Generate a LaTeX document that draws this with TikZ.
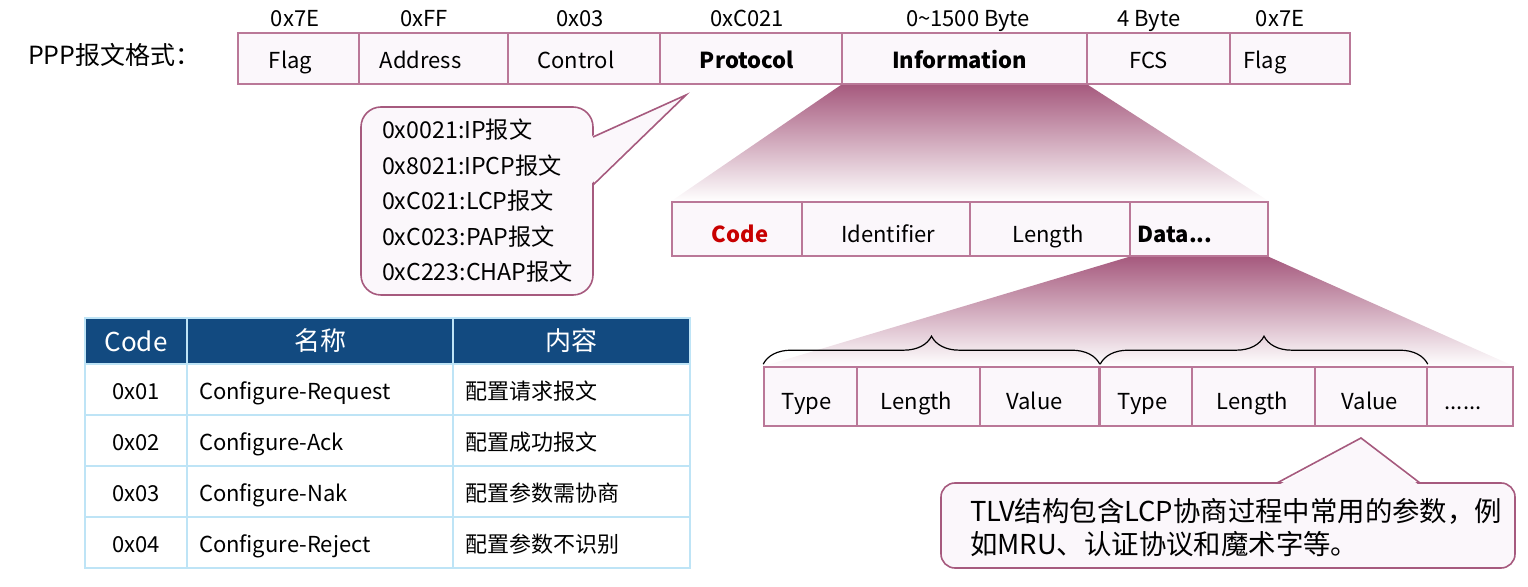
\documentclass[tikz,border=0pt]{standalone}
\usepackage{fontspec}
\setmainfont{Noto Sans CJK SC}
\usetikzlibrary{decorations.pathreplacing,backgrounds}

\definecolor{mauve}{RGB}{166,90,126}
\definecolor{cellline}{RGB}{186,120,152}
\definecolor{paleback}{RGB}{251,247,251}
\definecolor{tblhead}{RGB}{18,74,128}
\definecolor{tblline}{RGB}{190,228,246}
\definecolor{codered}{RGB}{200,0,0}

\tikzset{
	cell/.style={draw=cellline, fill=paleback, line width=0.8pt, inner sep=0pt},
	toprow/.style={cell, minimum height=25.5pt},
	midrow/.style={cell, minimum height=27pt},
	tlvrow/.style={cell, minimum height=29.5pt},
	fixht/.style={text height=8pt, text depth=2.5pt},
	fixlow/.style={text height=12pt, text depth=1.5pt},
	bubble/.style={draw=mauve, fill=paleback, line width=0.8pt},
	zoomshade/.style={top color=mauve, middle color=mauve!38, bottom color=white},
	brc/.style={decorate, decoration={brace, amplitude=14pt}, line width=0.6pt},
	thead/.style={draw=tblline, fill=tblhead, text=white, line width=1pt, minimum height=23pt, font=\fontsize{13}{15}\selectfont},
	tcell/.style={draw=tblline, fill=white, line width=1pt, minimum height=25.5pt, inner xsep=6pt, inner ysep=0pt, fixlow},
}

\begin{document}
\begin{tikzpicture}[x=0.5pt, y=-0.5pt, every node/.style={font=\fontsize{11}{13}\selectfont}]
	\useasboundingbox (0,0) rectangle (1528,587);

	\node[anchor=west, font=\fontsize{12.5}{14}\selectfont] (title) at (21,55) {PPP报文格式：};

	% PPP frame
	\foreach \xa/\xb/\txt/\n/\dx/\len/\lx in {
		238/359/Flag/flagA/-8/0x7E/295,
		359/508/Address/addr/-13/0xFF/424,
		508/660/Control/ctrl/-8/0x03/580,
		660/842/{\bfseries Protocol}/proto/-4/0xC021/747,
		842/1087/{\bfseries Information}/info/-5/{0\textasciitilde1500 Byte}/968,
		1087/1230/FCS/fcs/-10/4 Byte/1149,
		1230/1350/Flag/flagB/-25/0x7E/1280} {
		\pgfmathsetmacro\w{(\xb-\xa)*0.5}
		\node[toprow, minimum width=\w pt, label={[fixlow, inner ysep=0pt, xshift=\dx*0.5pt]center:\txt}] (\n) at ({(\xa+\xb)/2},58.5) {};
		\node[fixht] (\n-hd) at (\lx,21) {\len};
	}

	% LCP packet
	\foreach \xa/\xb/\txt/\n/\dx in {
		672/802/{\color{codered}\bfseries Code}/code/3,
		802/970/Identifier/ident/2,
		970/1130/Length/mlen/-2,
		1130/1268/{\bfseries Data\relax...}/data/-24} {
		\pgfmathsetmacro\w{(\xb-\xa)*0.5}
		\node[midrow, minimum width=\w pt, label={[fixlow, inner ysep=0pt, xshift=\dx*0.5pt, yshift=-1.5pt]center:\txt}] (\n) at ({(\xa+\xb)/2},229) {};
	}

	% TLV options
	\foreach \xa/\xb/\txt/\n/\dx in {
		764/857/Type/typeA/-4,
		857/980/Length/lenA/-2,
		980/1099/Value/valA/-5,
		1099/1192/Type/typeB/-3,
		1192/1315/Length/lenB/-1,
		1315/1427/Value/valB/-1,
		1427/1513/{\relax......}/more/-7} {
		\pgfmathsetmacro\w{(\xb-\xa)*0.5}
		\node[tlvrow, minimum width=\w pt, label={[fixlow, inner ysep=0pt, xshift=\dx*0.5pt, yshift=-1.5pt]center:\txt}] (\n) at ({(\xa+\xb)/2},396.5) {};
	}
	\draw[cellline, line width=1.3pt] (valA.north east) -- (valA.south east);

	\draw[brc] ([yshift=1pt]typeA.north west) -- ([yshift=1pt]valA.north east);
	\draw[brc] ([xshift=1pt,yshift=1pt]typeB.north west) -- ([yshift=1pt]valB.north east);

	\begin{scope}[on background layer]
		\shade[zoomshade] (info.south west) -- (info.south east) -- (data.north east) -- (code.north west) -- cycle;
		\shade[zoomshade] (data.south west) -- (data.south east) -- (more.north east) -- (typeA.north west) -- cycle;
	\end{scope}

	% protocol field callout
	\draw[bubble, rounded corners=10pt] (361,107) rectangle (593,295);
	\fill[paleback] (590,137) -- (686,95) -- (590,185) -- cycle;
	\draw[mauve, line width=0.8pt, line join=miter] (593,137) -- (686,95) -- (593,185);
	\node[align=left, anchor=west, font=\fontsize{11.6}{17.75}\selectfont] (ptype) at (375,201) {0x0021:IP报文\\0x8021:IPCP报文\\0xC021:LCP报文\\0xC023:PAP报文\\0xC223:CHAP报文};

	% TLV callout
	\draw[bubble, rounded corners=7pt] (941,483) rectangle (1515,568);
	\fill[paleback] (1277,486) -- (1361,438) -- (1420,486) -- cycle;
	\draw[mauve, line width=0.8pt] (1277,483) -- (1361,438) -- (1420,483);
	\node[align=left, anchor=west, font=\fontsize{13.7}{16.5}\selectfont] (tlvnote) at (963,528) {TLV结构包含LCP协商过程中常用的参数，例\\如MRU、认证协议和魔术字等。};

	% code table
	\node[thead, minimum width=51pt] (hcode) at (136,341) {Code};
	\node[thead, minimum width=133pt] (hname) at (320,341) {名称};
	\node[thead, minimum width=118.5pt] (hdesc) at (571.5,341) {内容};
	\foreach \cd/\nm/\ds [count=\rw] in {
		0x01/Configure-Request/配置请求报文,
		0x02/Configure-Ack/配置成功报文,
		0x03/Configure-Nak/配置参数需协商,
		0x04/Configure-Reject/配置参数不识别} {
		\pgfmathsetmacro\ry{364+(\rw-0.5)*51}
		\node[tcell, minimum width=51pt] (c\rw) at (136,\ry) {\cd};
		\node[tcell, text width=121pt, align=left] (n\rw) at (320,\ry) {\nm};
		\node[tcell, text width=106.5pt, align=left] (d\rw) at (571.5,\ry) {\ds};
	}
\end{tikzpicture}
\end{document}
